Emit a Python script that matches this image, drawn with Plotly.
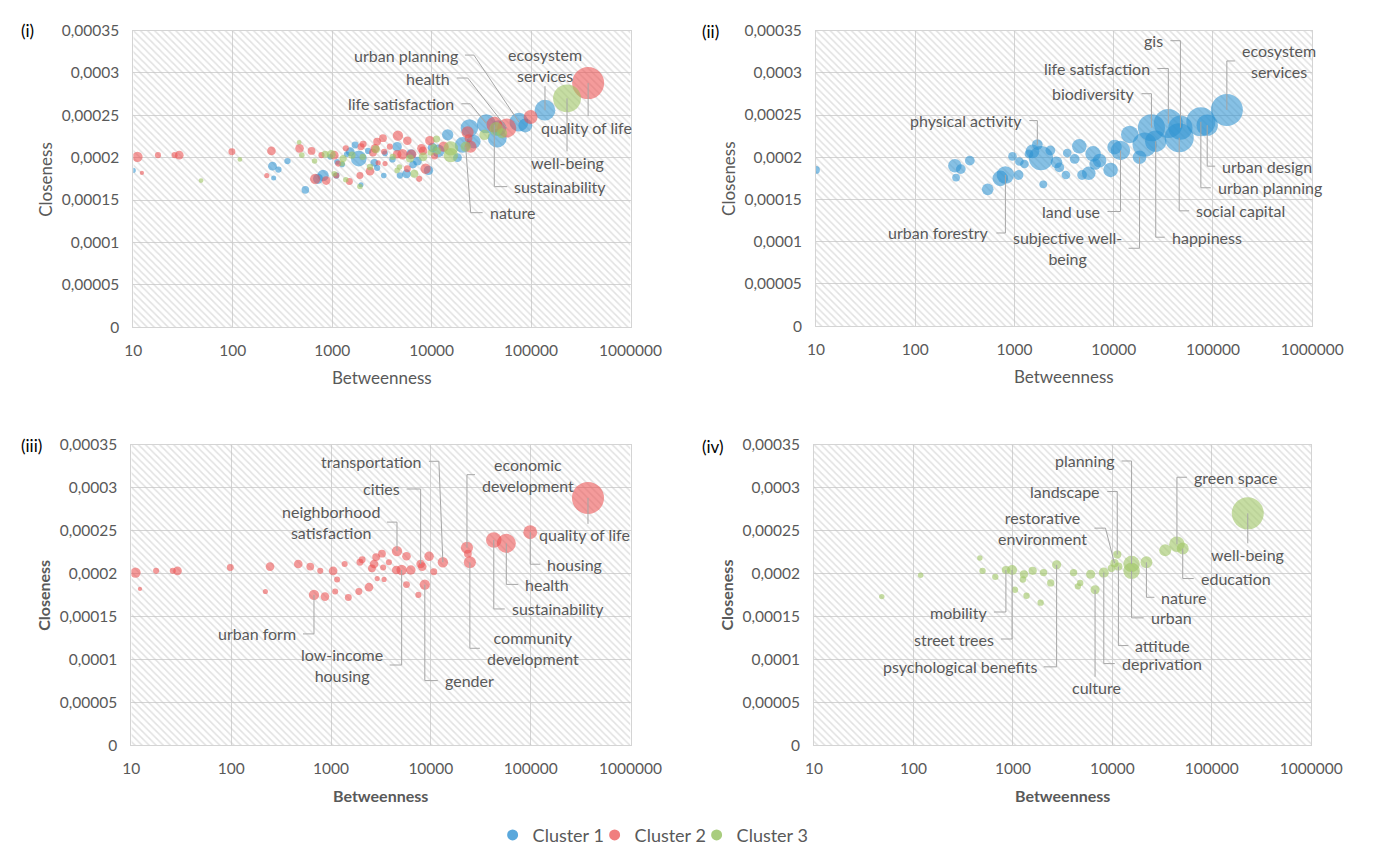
import math
import plotly.graph_objects as go

# ---------------- DATA ----------------
# Cluster 1 (blue)
c1_names = ["", "", "", "", "", "", "", "urban forestry", "", "", "", "", "", "",
            "physical activity", "", "", "", "", "", "", "", "", "", "", "", "", "", "", "", "",
            "land use", "", "subjective well-being", "", "biodiversity", "happiness",
            "life satisfaction", "social capital", "gis", "urban planning", "urban design",
            "ecosystem services"]
c1_btw = [10, 251, 288, 258, 355, 537, 720, 810, 955, 1100, 1120, 1260, 1400, 1520,
          1700, 1850, 1950, 2300, 2650, 2830, 3300, 3400, 4040, 4500, 4800, 5600, 6200, 6500, 7200, 9300, 10200,
          11700, 14500, 18200, 20500, 24000, 26500,
          35500, 45700, 47000, 75500, 87500,
          138000]
c1_clo = [0.000185, 0.000190, 0.000186, 0.000176, 0.000196, 0.000162, 0.000175, 0.000179, 0.000201, 0.000179,
          0.000195, 0.000192, 0.000204, 0.000207,
          0.000215, 0.000199, 0.000168, 0.000208, 0.000194, 0.000188, 0.000179, 0.000205, 0.000198, 0.000213,
          0.000179, 0.000181, 0.000204, 0.000192, 0.000196, 0.000185, 0.000212,
          0.000208, 0.000227, 0.000200, 0.000215, 0.000235, 0.000219,
          0.000240, 0.000223, 0.000235, 0.000242, 0.000238,
          0.000256]
c1_size = [2.5, 7.6, 3.9, 2.5, 3.9, 5.6, 9.9, 12.5, 3.1, 3.9, 3.1, 3.1, 3.1, 7.6,
           4.7, 24.1, 2.5, 3.9, 5.6, 3.9, 3.1, 3.1, 3.9, 8.7, 3.9, 7.6, 9.9, 5.6, 7.6, 8.7, 8.7,
           15.4, 12.5, 7.6, 24.1, 30.2, 18.7,
           34.7, 34.7, 24.1, 34.7, 18.7,
           42]

# Cluster 2 (red)
c2_names = ["", "", "", "", "", "", "", "", "", "", "urban form", "", "", "", "", "", "", "", "", "", "",
            "", "", "", "", "", "", "", "", "", "neighborhood satisfaction", "", "low-income housing", "", "",
            "", "cities", "", "gender", "", "", "", "transportation", "economic development", "",
            "community development", "sustainability", "health", "housing", "quality of life"]
c2_btw = [11, 12.2, 17.7, 26, 29, 98, 220, 245, 470, 620, 675, 780, 870, 1050, 1100, 1150, 1370, 1490, 1900,
          1950, 2050, 2400, 2570, 2700, 2830, 2900, 3240, 3330, 3400, 3800, 4580, 4500, 5100, 5700, 5700,
          6300, 7900, 8200, 8700, 7500, 9600, 10700, 13200, 23000, 23500,
          24600, 42700, 57000, 99000, 375000]
c2_clo = [0.000201, 0.000182, 0.000203, 0.000203, 0.000203, 0.000207, 0.000179, 0.000208, 0.000211, 0.000208,
          0.000175, 0.000203, 0.000173, 0.000203, 0.000179, 0.000193, 0.000211, 0.000172, 0.000179,
          0.000213, 0.000216, 0.000184, 0.000206, 0.000211, 0.000219, 0.000194, 0.000223, 0.000207, 0.000193,
          0.000213, 0.000226, 0.000204, 0.000204, 0.000220, 0.000187,
          0.000204, 0.000211, 0.000208, 0.000187, 0.000175, 0.000220, 0.000202, 0.000213, 0.000230, 0.000223,
          0.000213, 0.000239, 0.000235, 0.000248, 0.000288]
c2_size = [10.5, 1.8, 3.6, 3.6, 7.3, 4.7, 2.6, 7.3, 7.3, 5.9, 10.5, 3.6, 7.3, 7.3, 3.6, 3.6, 3.6, 4.7, 4.7,
           4.7, 4.7, 7.3, 5.9, 7.3, 5.9, 2.6, 5.9, 3.6, 2.6, 3.6, 10.5, 7.3, 10.5, 7.3, 4.7,
           8.8, 7.3, 7.3, 10.5, 3.6, 8.8, 4.7, 10.5, 14.3, 5.9,
           14.3, 23.7, 35.4, 18.7, 100]

# Cluster 3 (green)
c3_names = ["", "", "", "", "", "mobility", "street trees", "", "", "", "", "", "", "", "",
            "psychological benefits", "", "", "", "", "culture", "deprivation", "", "restorative environment",
            "attitude", "landscape", "planning", "urban", "nature", "", "green space", "education", "well-being"]
c3_btw = [48, 118, 465, 495, 665, 850, 980, 1050, 1260, 1290, 1370, 1580, 1900, 2030, 2400,
          2750, 4070, 4500, 4750, 6050, 6700, 8200, 9800, 10500,
          11500, 11200, 15600, 15600, 22000, 34000, 44600, 51000, 230000]
c3_clo = [0.000173, 0.000198, 0.000218, 0.000203, 0.000196, 0.000204, 0.000204, 0.000181, 0.000193, 0.000199,
          0.000174, 0.000203, 0.000166, 0.000201, 0.000189,
          0.000210, 0.000201, 0.000185, 0.000189, 0.000199, 0.000181, 0.000201, 0.000206, 0.000212,
          0.000208, 0.000222, 0.000211, 0.000203, 0.000213, 0.000227, 0.000234, 0.000229, 0.000270]
c3_size = [2.2, 2.2, 2.2, 3.0, 3.0, 5.0, 7.5, 3.0, 3.0, 5.0, 3.0, 5.0, 3.0, 4.0, 4.0,
           6.2, 4.0, 3.0, 3.0, 6.2, 6.2, 7.5, 4.0, 5.0,
           5.0, 5.0, 20.1, 20.1, 10.5, 10.5, 17.9, 10.5, 76]

cluster_labels = ["Cluster 1", "Cluster 2", "Cluster 3"]

x_ticks = [10, 100, 1000, 10000, 100000, 1000000]
x_ticktext = ["10", "100", "1000", "10000", "100000", "1000000"]
y_ticks = [0, 0.00005, 0.0001, 0.00015, 0.0002, 0.00025, 0.0003, 0.00035]
y_ticktext = ["0", "0,00005", "0,0001", "0,00015", "0,0002", "0,00025", "0,0003", "0,00035"]

# ---------------- STYLE / LAYOUT ----------------
W, H = 1384, 854
FONT = "Lato, 'Open Sans', sans-serif"
GREY = "#595959"
colors = ["rgba(46,146,210,0.82)", "rgba(236,80,80,0.82)", "rgba(160,198,100,0.85)"]
legend_colors = ["#5aa8dc", "#f07e7e", "#a9cd7e"]

clusters = {
    "c1": (c1_names, c1_btw, c1_clo, c1_size),
    "c2": (c2_names, c2_btw, c2_clo, c2_size),
    "c3": (c3_names, c3_btw, c3_clo, c3_size),
}
cl_index = {"c1": 0, "c2": 1, "c3": 2}

# panel pixel boxes: (x0, x1, ytop, ybottom)
panels = [
    dict(key="", box=(128, 640, 21, 324), cl=["c1", "c2", "c3"], tag="(i)", tagpos=(10, 21), bold=False),
    dict(key="2", box=(831, 1342, 21, 323), cl=["c1"], tag="(ii)", tagpos=(712, 22), bold=False),
    dict(key="3", box=(126, 640, 444, 751), cl=["c2"], tag="(iii)", tagpos=(10, 445), bold=True),
    dict(key="4", box=(829, 1341, 444, 751), cl=["c3"], tag="(iv)", tagpos=(712, 446), bold=True),
]

# labels: (cluster, name, dx, dy(screen down +), anchor, stub_x)
labels = [
    [("c1", "urban planning", -59, -67, "right", -45),
     ("c2", "health", -55, -50, "right", -39),
     ("c1", "life satisfaction", -30, -20, "right", -16),
     ("c1", "ecosystem services", 0, -45, "center", None),
     ("c2", "quality of life", -2, 44, "center", None),
     ("c3", "well-being", 0, 64, "center", None),
     ("c2", "sustainability", 18, 62, "left", 0),
     ("c3", "nature", 22, 66, "left", 5)],
    [("c1", "gis", -15, -87, "right", 0),
     ("c1", "life satisfaction", -16, -55, "right", 0),
     ("c1", "biodiversity", -15, -34, "right", 0),
     ("c1", "physical activity", -13, -24, "right", 0),
     ("c1", "ecosystem services", 13, -49, "left", 0),
     ("c1", "urban design", 13, 41, "left", 0),
     ("c1", "urban planning", 15, 66, "left", 0),
     ("c1", "social capital", 15, 73, "left", 0),
     ("c1", "happiness", 14, 96, "left", 0),
     ("c1", "subjective well-being", -16, 91, "right", 0),
     ("c1", "land use", -18, 61, "right", 0),
     ("c1", "urban forestry", -14, 58, "right", 0)],
    [("c2", "transportation", -19, -101, "right", -4),
     ("c2", "cities", -19, -75, "right", 0),
     ("c2", "neighborhood satisfaction", -15, -29, "right", 0),
     ("c2", "economic development", 13, -73, "left", 0),
     ("c2", "quality of life", -3, 37, "center", None),
     ("c2", "housing", 15, 32, "left", 0),
     ("c2", "health", 17, 41, "left", 0),
     ("c2", "sustainability", 16, 69, "left", 0),
     ("c2", "community development", 15, 86, "left", 0),
     ("c2", "gender", 18, 96, "left", 0),
     ("c2", "low-income housing", -17, 95, "right", 0),
     ("c2", "urban form", -16, 39, "right", 0)],
    [("c3", "planning", -15, -103, "right", 0),
     ("c3", "landscape", -15, -63, "right", 0),
     ("c3", "restorative environment", -25, -35, "right", -9),
     ("c3", "green space", 15, -67, "left", 0),
     ("c3", "well-being", 0, 41, "center", None),
     ("c3", "education", 16, 30, "left", 0),
     ("c3", "nature", 13, 35, "left", 0),
     ("c3", "urban", 17, 47, "left", 0),
     ("c3", "attitude", 15, 79, "left", 0),
     ("c3", "deprivation", 16, 91, "left", 0),
     ("c3", "culture", 1, 98, "center", None),
     ("c3", "psychological benefits", -18, 102, "right", 0),
     ("c3", "street trees", -16, 69, "right", 0),
     ("c3", "mobility", -17, 42, "right", 0)],
]
two_line = {
    "ecosystem services": "ecosystem<br>services",
    "subjective well-being": "subjective well-<br>being",
    "neighborhood satisfaction": "neighborhood<br>satisfaction",
    "economic development": "economic<br>development",
    "community development": "community<br>development",
    "low-income housing": "low-income<br>housing",
    "restorative environment": "restorative<br>environment",
}

MAX_DIAM = 32
LABEL_SIZE = 16

fig = go.Figure()
layout = dict(width=W, height=H, margin=dict(l=0, r=0, t=0, b=0),
              paper_bgcolor="white", plot_bgcolor="white",
              font=dict(family=FONT, color=GREY), showlegend=True)
annotations = []
shapes = []

for pi, p in enumerate(panels):
    k = p["key"]
    xa, ya = "x" + k, "y" + k
    x0, x1, yt, yb = p["box"]
    layout["xaxis" + k] = dict(
        type="log", range=[1, 6], domain=[x0 / W, x1 / W], anchor=ya,
        tickvals=x_ticks, ticktext=x_ticktext, showgrid=True, gridcolor="#d4d4d4", gridwidth=1,
        showline=True, linecolor="#d4d4d4", mirror=True, zeroline=False, ticks="",
        ticklabelstandoff=9,
        tickfont=dict(family=FONT, size=15.5, color=GREY), fixedrange=True)
    layout["yaxis" + k] = dict(
        range=[0, 0.00035], domain=[1 - yb / H, 1 - yt / H], anchor=xa,
        tickvals=y_ticks, ticktext=y_ticktext, showgrid=True, gridcolor="#d4d4d4", gridwidth=1,
        showline=True, linecolor="#d4d4d4", mirror=True, zeroline=False, ticks="",
        ticklabelstandoff=10,
        tickfont=dict(family=FONT, size=15.5, color=GREY), fixedrange=True)

    # hatched plot background spanning the axis range
    rx = [10 ** 1, 10 ** 6, 10 ** 6, 10 ** 1, 10 ** 1]
    ry = [0, 0, 0.00035, 0.00035, 0]
    fig.add_trace(go.Scatter(x=rx, y=ry, xaxis=xa, yaxis=ya, mode="none", fill="toself",
                             fillcolor="rgba(0,0,0,0)",
                             fillpattern=dict(shape="\\", fgcolor="#c4c4c4", bgcolor="rgba(0,0,0,0)",
                                              size=5, solidity=0.3),
                             hoverinfo="skip", showlegend=False))

    pmax = max(max(clusters[c][3]) for c in p["cl"])
    sref = 2.0 * pmax / (MAX_DIAM ** 2)
    for c in p["cl"]:
        names, btw, clo, sz = clusters[c]
        fig.add_trace(go.Scatter(
            x=btw, y=clo, xaxis=xa, yaxis=ya, mode="markers", text=names,
            marker=dict(size=sz, sizemode="area", sizeref=sref, sizemin=2,
                        color=colors[cl_index[c]], line=dict(width=0)),
            name=cluster_labels[cl_index[c]], showlegend=False))

    # axis titles
    wt = "bold" if p["bold"] else "normal"
    tsize = 16 if p["bold"] else 17
    annotations.append(dict(xref="paper", yref="paper", x=(x0 + x1) / 2 / W, y=1 - (yb + 51) / H,
                            text="Betweenness", showarrow=False, xanchor="center", yanchor="middle",
                            font=dict(family=FONT, size=tsize, color=GREY, weight=wt)))
    annotations.append(dict(xref="paper", yref="paper", x=(x0 - 90) / W, y=1 - (yt + yb) / 2 / H,
                            text="Closeness", showarrow=False, textangle=-90, xanchor="center",
                            yanchor="middle", font=dict(family=FONT, size=tsize, color=GREY, weight=wt)))
    annotations.append(dict(xref="paper", yref="paper", x=p["tagpos"][0] / W, y=1 - p["tagpos"][1] / H,
                            text=p["tag"], showarrow=False, xanchor="left", yanchor="middle",
                            font=dict(family=FONT, size=17, color="black")))

    # data labels with leader lines
    for (c, nm, dx, dy, anc, stub) in labels[pi]:
        names, btw, clo, sz = clusters[c]
        i = names.index(nm)
        px, py = btw[i], clo[i]
        txt = two_line.get(nm, nm)
        nlines = txt.count("<br>") + 1
        annotations.append(dict(xref=xa, yref=ya, x=math.log10(px), y=py, text=txt, showarrow=False,
                                xshift=dx, yshift=-dy, xanchor=anc, yanchor="middle", align="center",
                                font=dict(family=FONT, size=LABEL_SIZE, color=GREY)))
        if anc == "center":
            half = 10 * nlines + 1
            sy = dy - half if dy > 0 else dy + half
            path = f"M0,{-sy} L0,0"
        else:
            sx0 = dx + 5 if anc == "right" else dx - 5
            path = f"M{sx0},{-dy} L{stub},{-dy} L0,0"
        shapes.append(dict(type="path", xref=xa, yref=ya, xsizemode="pixel", ysizemode="pixel",
                           xanchor=px, yanchor=py, path=path,
                           line=dict(color="#a6a6a6", width=1)))

# legend entries
for j in range(3):
    fig.add_trace(go.Scatter(x=[None], y=[None], mode="markers", name=cluster_labels[j],
                             marker=dict(size=11, color=legend_colors[j]), showlegend=True))
# empty spacer entry so the last legend text is not clipped
fig.add_trace(go.Scatter(x=[None], y=[None], mode="markers", name=" ",
                         marker=dict(size=1, color="rgba(0,0,0,0)"), showlegend=True, hoverinfo="skip"))

layout["legend"] = dict(orientation="h", x=498 / W, xanchor="left", y=1 - 843 / H, yanchor="middle",
                        font=dict(family=FONT, size=18, color=GREY), itemwidth=30,
                        entrywidth=57, entrywidthmode="pixels",
                        bgcolor="rgba(0,0,0,0)")
layout["annotations"] = annotations
layout["shapes"] = shapes
fig.update_layout(**layout)
fig.write_html("out.html", config={"displayModeBar": False},
               post_script="document.body.style.margin='0px';")
